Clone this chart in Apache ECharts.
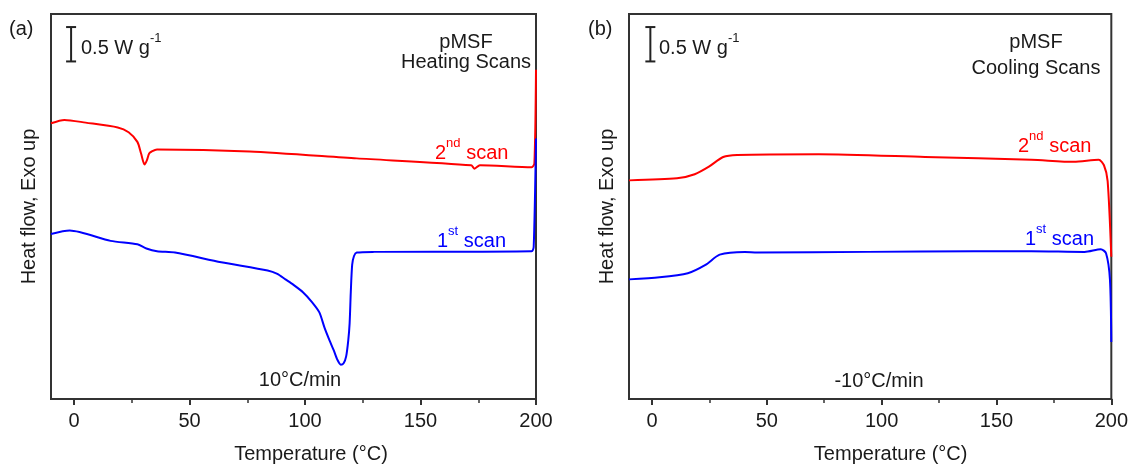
<!DOCTYPE html>
<html>
<head>
<meta charset="utf-8">
<script src="https://cdn.jsdelivr.net/npm/echarts@6/dist/echarts.min.js"></script>
<style>
html,body{margin:0;padding:0;background:#fff;}
#chart{width:1131px;height:469px;}
</style>
</head>
<body>
<div id="chart"></div>
<script>
// (a) heating scans, 2nd scan (red)
var heat2Temp = [-10, -4.2, 5, 18.9, 23.6, 27.4, 29, 30.5, 31.5, 32.5, 33.6, 35.9, 76, 122.4, 171.9, 173.4, 175.7, 198.1, 199.3, 200];
var heat2Flow = [4.01, 4.06, 4.02, 3.95, 3.88, 3.74, 3.57, 3.41, 3.47, 3.57, 3.60, 3.63, 3.60, 3.50, 3.40, 3.35, 3.40, 3.37, 3.43, 4.79];
// (a) heating scans, 1st scan (blue)
var heat1Temp = [-10, -1.9, 15.8, 27.4, 31.3, 35.9, 43.7, 63.7, 83.8, 88, 91.5, 95, 99.2, 103, 106.2, 108.5, 110.5, 112.4, 114, 115.5, 116.7, 117.8, 118.7, 119.3, 119.8, 120.4, 121.2, 122.4, 130, 198.1, 199, 200];
var heat1Flow = [2.40, 2.45, 2.30, 2.25, 2.19, 2.15, 2.13, 1.99, 1.87, 1.82, 1.74, 1.66, 1.55, 1.41, 1.26, 1.03, 0.86, 0.71, 0.57, 0.50, 0.52, 0.62, 0.85, 1.10, 1.55, 1.95, 2.08, 2.13, 2.14, 2.15, 2.21, 3.79];
// (b) cooling scans, 2nd scan (red)
var cool2Temp = [-10, 10.9, 18.6, 24.8, 31, 37.1, 72.6, 118.9, 165.2, 183.7, 194.5, 196.8, 198.4, 200];
var cool2Flow = [3.18, 3.21, 3.27, 3.38, 3.52, 3.55, 3.56, 3.52, 3.48, 3.45, 3.48, 3.40, 3.17, 2.07];
// (b) cooling scans, 1st scan (blue)
var cool1Temp = [-10, 3.3, 15.6, 23.3, 29.5, 40.4, 45.8, 93.9, 140.2, 165.2, 188.4, 195.4, 197.7, 199.4, 200];
var cool1Flow = [1.74, 1.77, 1.83, 1.95, 2.10, 2.14, 2.13, 2.14, 2.15, 2.15, 2.14, 2.18, 2.12, 1.74, 0.83];

var majorTicks = [0, 50, 100, 150, 200];
var minorTicks = [25, 75, 125, 175];
// scale bar: [temperature, low, high] -> 0.5 W/g
var barA = [[-1.3, 4.91, 5.41]];
var barB = [[-0.7, 4.91, 5.41]];

var FONT = '"Liberation Sans", Arial, sans-serif';
var TXT = '#1a1a1a';

function pairs(t, f) {
    var out = [];
    for (var i = 0; i < t.length; i++) out.push([t[i], f[i]]);
    return out;
}

function mainX(gi, shift) {
    return {
        type: 'value', gridIndex: gi, min: -10, max: 200, position: 'bottom',
        name: 'Temperature (°C)', nameLocation: 'middle', nameGap: 45,
        nameTextStyle: {fontSize: 20, color: TXT, fontFamily: FONT, padding: [0, 0, 0, shift]},
        axisLine: {show: true, onZero: false, lineStyle: {color: '#333', width: 2}},
        axisTick: {show: true, inside: false, length: 6, customValues: majorTicks, lineStyle: {color: '#333', width: 2}},
        axisLabel: {customValues: majorTicks, fontSize: 20, color: TXT, fontFamily: FONT, margin: 12},
        splitLine: {show: false}
    };
}
function minorX(gi) {
    return {
        type: 'value', gridIndex: gi, min: -10, max: 200, position: 'bottom',
        axisLine: {show: false, onZero: false},
        axisTick: {show: true, inside: false, length: 4, customValues: minorTicks, lineStyle: {color: '#333', width: 1.5}},
        axisLabel: {show: false},
        splitLine: {show: false}
    };
}
function mainY(gi) {
    return {
        type: 'value', gridIndex: gi, min: 0, max: 5.6, position: 'left',
        name: 'Heat flow, Exo up', nameLocation: 'middle', nameGap: 12,
        nameTextStyle: {fontSize: 20, color: TXT, fontFamily: FONT},
        axisLine: {show: true, onZero: false, lineStyle: {color: '#333', width: 2}},
        axisTick: {show: false}, axisLabel: {show: false}, splitLine: {show: false}
    };
}
function curve(xi, data, color) {
    return {
        type: 'line', xAxisIndex: xi, yAxisIndex: xi / 2, data: data,
        showSymbol: false, smooth: 0.25, silent: true,
        lineStyle: {color: color, width: 2}
    };
}
function scaleBar(xi, data) {
    return {
        type: 'custom', xAxisIndex: xi, yAxisIndex: xi / 2, data: data, silent: true,
        renderItem: function (params, api) {
            var lo = api.coord([api.value(0), api.value(1)]);
            var hi = api.coord([api.value(0), api.value(2)]);
            var st = {stroke: '#222', lineWidth: 2};
            return {type: 'group', children: [
                {type: 'line', shape: {x1: lo[0], y1: lo[1], x2: hi[0], y2: hi[1]}, style: st},
                {type: 'line', shape: {x1: lo[0] - 5, y1: lo[1], x2: lo[0] + 5, y2: lo[1]}, style: st},
                {type: 'line', shape: {x1: hi[0] - 5, y1: hi[1], x2: hi[0] + 5, y2: hi[1]}, style: st}
            ]};
        }
    };
}
function txt(x, y, text, color, align, rich) {
    return {
        type: 'text', x: x, y: y, silent: true,
        style: {text: text, fill: color, fontSize: 20, fontFamily: FONT,
            align: align || 'left', verticalAlign: 'middle', rich: rich || {}}
    };
}
function supRich(c) {
    return {
        b: {fontSize: 20, fontFamily: FONT, lineHeight: 26, verticalAlign: 'bottom', color: c},
        s: {fontSize: 13, fontFamily: FONT, lineHeight: 26, verticalAlign: 'top', color: c}
    };
}

var chart = echarts.init(document.getElementById('chart'), null, {renderer: 'canvas'});
chart.setOption({
    backgroundColor: '#fff',
    animation: false,
    grid: [
        {left: 51, top: 14, width: 485, height: 391, show: true, borderColor: '#333', borderWidth: 2},
        {left: 629, top: 14, width: 485, height: 391, show: true, borderColor: '#333', borderWidth: 2}
    ],
    xAxis: [mainX(0, 35), minorX(0), mainX(1, 41), minorX(1)],
    yAxis: [mainY(0), mainY(1)],
    series: [
        curve(0, pairs(heat2Temp, heat2Flow), '#ff0000'),
        curve(0, pairs(heat1Temp, heat1Flow), '#0000ff'),
        curve(2, pairs(cool2Temp, cool2Flow), '#ff0000'),
        curve(2, pairs(cool1Temp, cool1Flow), '#0000ff'),
        scaleBar(0, barA),
        scaleBar(2, barB)
    ],
    graphic: [
        txt(9, 29, '(a)', TXT),
        txt(588, 29, '(b)', TXT),
        txt(81, 45, '{b|0.5 W g}{s|-1}', TXT, 'left', supRich(TXT)),
        txt(659, 45, '{b|0.5 W g}{s|-1}', TXT, 'left', supRich(TXT)),
        txt(466, 42, 'pMSF', TXT, 'center'),
        txt(466, 62, 'Heating Scans', TXT, 'center'),
        txt(1036, 42, 'pMSF', TXT, 'center'),
        txt(1036, 68, 'Cooling Scans', TXT, 'center'),
        txt(435, 150, '{b|2}{s|nd}{b| scan}', '#ff0000', 'left', supRich('#ff0000')),
        txt(437, 238, '{b|1}{s|st}{b| scan}', '#0000ff', 'left', supRich('#0000ff')),
        txt(1018, 143, '{b|2}{s|nd}{b| scan}', '#ff0000', 'left', supRich('#ff0000')),
        txt(1025, 236, '{b|1}{s|st}{b| scan}', '#0000ff', 'left', supRich('#0000ff')),
        txt(300, 380, '10°C/min', TXT, 'center'),
        txt(879, 381, '-10°C/min', TXT, 'center')
    ]
});
</script>
</body>
</html>
